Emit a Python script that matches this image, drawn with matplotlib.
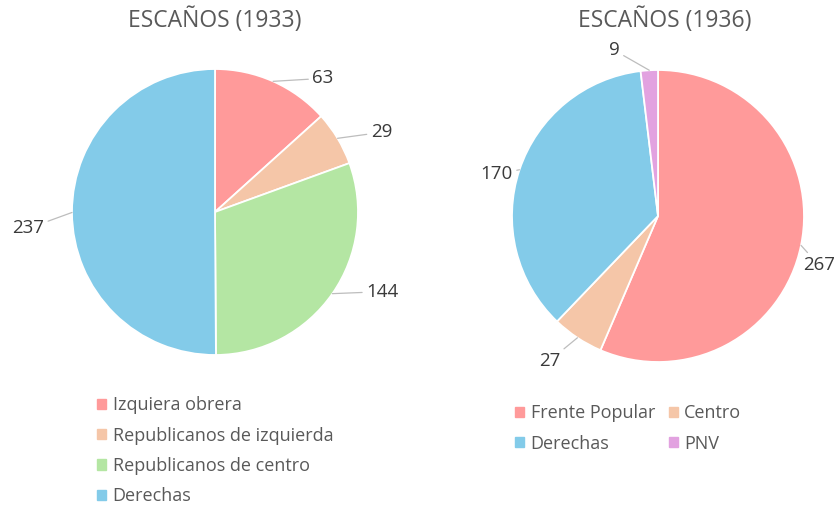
import numpy as np
import matplotlib
matplotlib.use("Agg")
import matplotlib.pyplot as plt
from matplotlib.patches import Patch

plt.rcParams['font.family'] = ['Open Sans', 'DejaVu Sans']

# datos
partidos_1933 = ['Izquiera obrera', 'Republicanos de izquierda', 'Republicanos de centro', 'Derechas']
escanos_1933 = [63, 29, 144, 237]
partidos_1936 = ['Frente Popular', 'Centro', 'Derechas', 'PNV']
escanos_1936 = [267, 27, 170, 9]

colores_1933 = ['#FF9A9A', '#F5C6A8', '#B4E6A3', '#83CBE9']
colores_1936 = ['#FF9A9A', '#F5C6A8', '#83CBE9', '#E2A2E0']

# desplazamiento de las etiquetas (pixeles) respecto al borde del sector
offs_1933 = [(50, 3), (44, 6), (50, 2), (-44, -16)]
offs_1936 = [(18, -20), (-28, -23), (-23, -4), (-35, 20)]

W, H = 835, 507
fig = plt.figure(figsize=(W / 100, H / 100), dpi=100)


def pie_axes(cx, cy, r):
    return fig.add_axes([(cx - r) / W, (H - cy - r) / H, 2 * r / W, 2 * r / H])


def tarta(ax, valores, colores, offs):
    wedges, _ = ax.pie(valores, colors=colores, startangle=90, counterclock=False,
                       radius=1, wedgeprops=dict(edgecolor='white', linewidth=1.3))
    ax.set_xlim(-1, 1)
    ax.set_ylim(-1, 1)
    ax.set_aspect('auto')
    ax.axis('off')
    for w, v, (dx, dy) in zip(wedges, valores, offs):
        ang = np.deg2rad((w.theta1 + w.theta2) / 2)
        x, y = np.cos(ang), np.sin(ang)
        ax.annotate(str(v), xy=(x, y), xytext=(dx, dy), textcoords='offset pixels',
                    ha='center', va='center', fontsize=13.5, color='#3A3A3A',
                    arrowprops=dict(arrowstyle='-', color='#BDBDBD', lw=0.9,
                                    shrinkA=1, shrinkB=0),
                    annotation_clip=False)


ax1 = pie_axes(215, 212, 143)
tarta(ax1, escanos_1933, colores_1933, offs_1933)
ax2 = pie_axes(658, 216, 146)
tarta(ax2, escanos_1936, colores_1936, offs_1936)

fig.text(215 / W, 1 - 20 / H, 'ESCAÑOS (1933)', ha='center', va='center',
         fontsize=16.5, color='#595959')
fig.text(665 / W, 1 - 20 / H, 'ESCAÑOS (1936)', ha='center', va='center',
         fontsize=16.5, color='#595959')

leg_kw = dict(frameon=False, fontsize=13, labelcolor='#595959', handlelength=0.5,
              handleheight=0.5, handletextpad=0.35, labelspacing=0.68, borderpad=0.4)

h1 = [Patch(color=c) for c in colores_1933]
fig.legend(h1, partidos_1933, loc='upper left', bbox_to_anchor=(81 / W, 1 - 380 / H),
           **leg_kw)

h2 = [Patch(color=c) for c in colores_1936]
orden = [0, 2, 1, 3]
fig.legend([h2[i] for i in orden], [partidos_1936[i] for i in orden], ncol=2,
           loc='upper left', bbox_to_anchor=(499 / W, 1 - 388 / H),
           columnspacing=0.75, **leg_kw)

fig.savefig('out.png', dpi=100, facecolor='white')
